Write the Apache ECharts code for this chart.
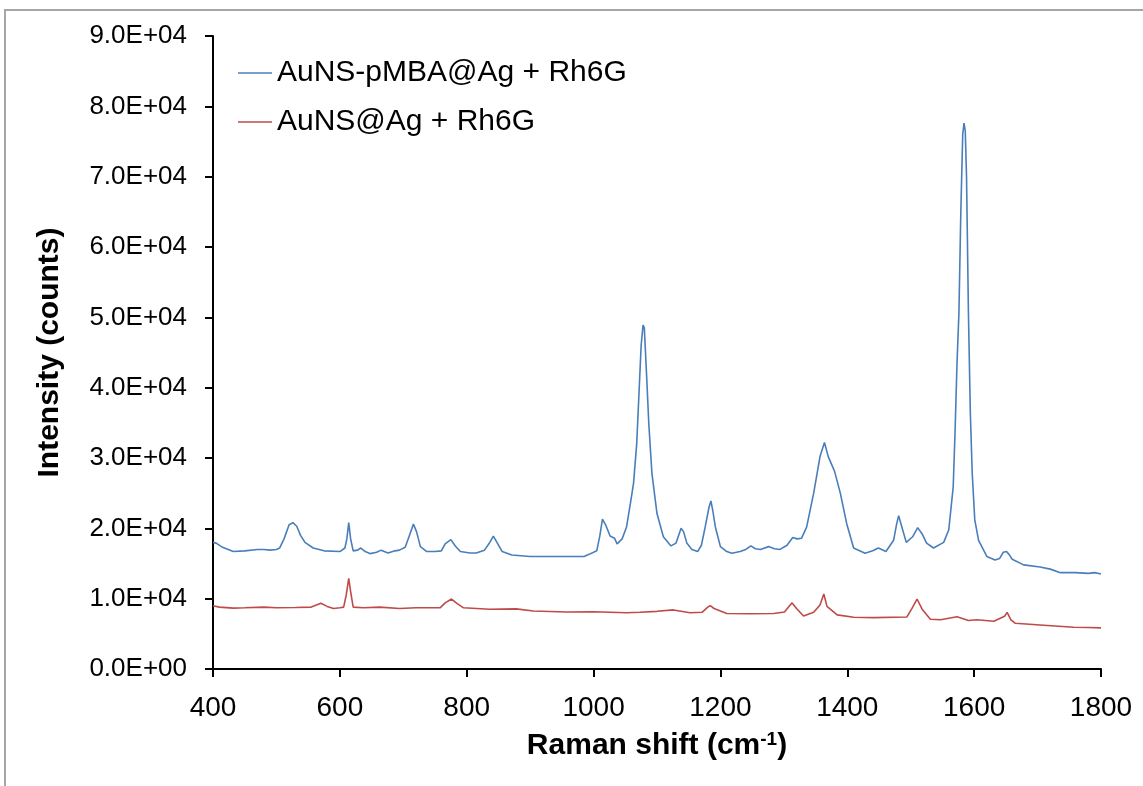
<!DOCTYPE html>
<html>
<head>
<meta charset="utf-8">
<script src="https://cdn.jsdelivr.net/npm/echarts@6/dist/echarts.min.js"></script>
<style>
html, body { margin: 0; padding: 0; background: #fff; }
#main { width: 1143px; height: 786px; }
</style>
</head>
<body>
<div id="main"></div>
<script>
// Raman spectra
var blueShift = [400,405,415,432,450,470,480,490,500,505,512,520,526,532,538,545,558,575,600,608,611,614,617,621,628,633,640,648,658,665,676,687,694,703,709,716,721,727,737,750,760,766,775,782,790,805,815,828,835,842,849,856,871,900,930,960,985,993,1005,1010,1014,1019,1026,1033,1037,1045,1052,1058,1063,1068,1072,1075,1078,1080,1084,1087,1092,1100,1110,1122,1130,1138,1142,1147,1155,1164,1170,1176,1182,1185,1188,1192,1200,1210,1218,1231,1240,1248,1255,1263,1276,1285,1294,1305,1314,1321,1328,1336,1347,1357,1364,1370,1380,1389,1399,1410,1428,1440,1449,1461,1473,1478,1481,1486,1493,1503,1511,1518,1525,1536,1552,1560,1567,1570,1573,1576,1579,1582,1584,1586,1588,1591,1594,1597,1601,1607,1620,1633,1640,1646,1651,1655,1660,1678,1704,1720,1736,1760,1780,1790,1800];
var blueCounts = [18000,17900,17300,16700,16800,17000,17000,16900,17000,17200,18500,20500,20800,20300,19000,18000,17200,16800,16700,17200,18500,20800,18500,16800,16900,17200,16700,16400,16600,16900,16500,16800,16900,17300,18800,20600,19500,17400,16700,16700,16800,17800,18400,17500,16700,16500,16500,16900,17800,18900,17800,16700,16200,16000,16000,16000,16000,16300,16800,19000,21300,20500,18900,18600,17800,18500,20200,23500,26400,32000,40000,46000,48900,48500,41000,35000,27800,22100,18800,17500,17900,20000,19500,17900,17000,16700,17600,20200,23000,23900,22500,20200,17400,16700,16450,16700,17000,17500,17100,17000,17400,17100,17000,17600,18700,18500,18600,20200,25000,30200,32200,30200,28100,25000,20700,17200,16450,16800,17200,16700,18300,20700,21800,20200,18000,18800,20100,19200,17900,17200,18000,19800,25900,34000,43500,50600,65000,76000,77600,76500,70000,50600,36400,27800,21200,18300,16000,15500,15700,16600,16700,16300,15600,14800,14500,14200,13700,13700,13600,13700,13500];

var redShift = [400,410,432,450,480,500,530,555,570,580,590,600,606,610,614,617,621,637,663,694,720,758,766,776,785,795,836,878,905,958,1000,1052,1073,1100,1126,1152,1171,1180,1184,1190,1210,1247,1284,1301,1309,1313,1320,1331,1347,1357,1363,1368,1384,1410,1442,1494,1502,1510,1518,1531,1547,1573,1591,1604,1631,1648,1652,1658,1665,1704,1757,1780,1800];
var redCounts = [9000,8800,8650,8700,8800,8700,8750,8800,9350,8900,8600,8700,8800,10500,12900,11000,8800,8700,8800,8600,8700,8700,9400,9950,9300,8700,8500,8550,8250,8100,8150,8000,8060,8200,8400,8000,8060,8800,9000,8600,7900,7850,7900,8100,9000,9400,8600,7530,8060,9100,10660,8900,7700,7350,7300,7400,8630,9950,8500,7070,7000,7440,6900,7000,6800,7500,8060,7000,6500,6260,5930,5900,5850];

var seriesNames = ['AuNS-pMBA@Ag + Rh6G', 'AuNS@Ag + Rh6G'];
var xTicks = [400, 1800, 200];
var yTicks = [0, 90000, 10000];

function zip(xs, ys) {
	var out = [];
	for (var i = 0; i < xs.length; i++) out.push([xs[i], ys[i]]);
	return out;
}

// 9.0E+04 style labels
function sci(v) {
	if (v === 0) return '0.0E+00';
	var e = Math.floor(Math.log10(v));
	var m = v / Math.pow(10, e);
	return m.toFixed(1) + 'E+' + (e < 10 ? '0' + e : e);
}

var myChart = echarts.init(document.getElementById('main'));
var font = 'Liberation Sans, Arial, sans-serif';

var option = {
	animation: false,
	backgroundColor: '#fff',
	graphic: [{
		type: 'rect',
		shape: { x: 5, y: 10, width: 1200, height: 900 },
		style: { fill: 'none', stroke: '#a6a6a6', lineWidth: 2 }
	}],
	legend: {
		orient: 'vertical',
		left: 233,
		top: 53,
		icon: 'rect',
		itemWidth: 34,
		itemHeight: 1.5,
		itemGap: 19,
		textStyle: { fontFamily: font, fontSize: 30, color: '#000' },
		data: seriesNames
	},
	grid: { left: 213, top: 36, right: 42, bottom: 117 },
	xAxis: {
		type: 'value',
		min: xTicks[0],
		max: xTicks[1],
		interval: xTicks[2],
		splitLine: { show: false },
		axisLine: { lineStyle: { color: '#000', width: 2 } },
		axisTick: { lineStyle: { color: '#000', width: 2 }, length: 8 },
		axisLabel: { fontFamily: font, fontSize: 28, color: '#000', margin: 25, formatter: function (v) { return String(v); } },
		name: '{a|Raman shift (cm}{s|-1}{a|)}',
		nameLocation: 'middle',
		nameGap: 61,
		nameTextStyle: {
			rich: {
				a: { fontFamily: font, fontSize: 30, fontWeight: 'bold', color: '#000' },
				s: { fontFamily: font, fontSize: 19, fontWeight: 'bold', color: '#000', verticalAlign: 'top', padding: [0, 0, 12, 0] }
			}
		}
	},
	yAxis: {
		type: 'value',
		min: yTicks[0],
		max: yTicks[1],
		interval: yTicks[2],
		splitLine: { show: false },
		axisLine: { show: true, lineStyle: { color: '#000', width: 2 } },
		axisTick: { show: true, inside: false, lineStyle: { color: '#000', width: 2 }, length: 8 },
		axisLabel: { fontFamily: font, fontSize: 26, color: '#000', margin: 26, formatter: sci },
		name: 'Intensity (counts)',
		nameLocation: 'middle',
		nameGap: 148,
		nameTextStyle: { fontFamily: font, fontSize: 30, fontWeight: 'bold', color: '#000' }
	},
	series: [{
		name: seriesNames[0],
		type: 'line',
		showSymbol: false,
		color: '#4a7ebb',
		lineStyle: { width: 1.6 },
		data: zip(blueShift, blueCounts)
	}, {
		name: seriesNames[1],
		type: 'line',
		showSymbol: false,
		color: '#be4b48',
		lineStyle: { width: 1.6 },
		data: zip(redShift, redCounts)
	}]
};
myChart.setOption(option);
</script>
</body>
</html>
